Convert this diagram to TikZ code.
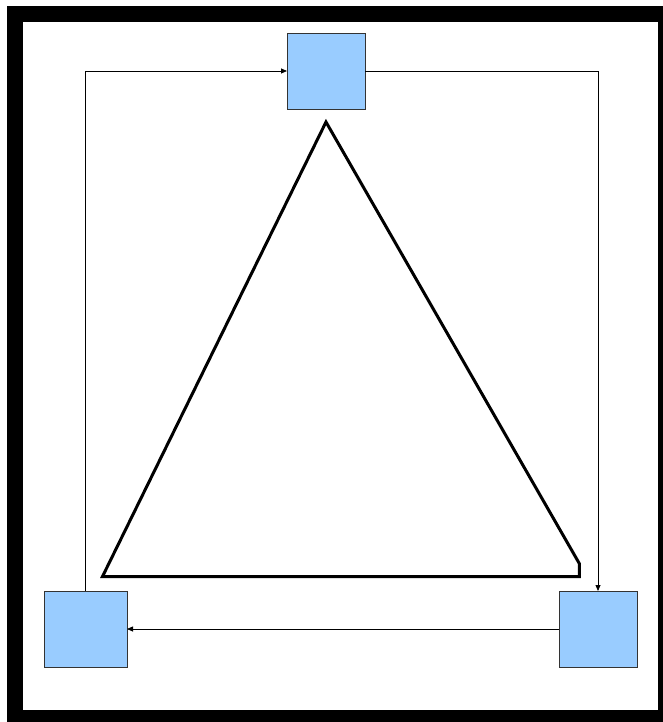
\documentclass[tikz,border=0pt]{standalone}
\usetikzlibrary{arrows.meta}
\definecolor{boxblue}{HTML}{99CCFF}
\definecolor{boxline}{HTML}{333333}
\begin{document}
\begin{tikzpicture}[x=1pt,y=-1pt,
  sq/.style={draw=boxline,fill=boxblue,line width=0.9pt,inner sep=0pt,outer sep=0pt,anchor=north west},
  conn/.style={line width=0.8pt,-{Triangle[length=6pt,width=5pt]}}]
\useasboundingbox (0,0) rectangle (663,722);
\clip (0,0) rectangle (663,722);
\draw[line width=16pt] (15,14) rectangle (666,718);
\node[sq,minimum width=78pt,minimum height=76pt] (top) at (287,33) {};
\node[sq,minimum width=83pt,minimum height=76pt] (lb) at (44,591) {};
\node[sq,minimum width=78pt,minimum height=76pt] (rb) at (559,591) {};
\coordinate (tl) at (lb.north |- top.west);
\coordinate (tr) at (598,0 |- top.east);
\draw[conn] (lb.north) -- (tl) -- (top.west);
\draw[conn] (top.east) -- (tr) -- (tr |- rb.north);
\draw[conn] (rb.west) -- (lb.east |- rb.west);
\draw[line width=3pt,line join=miter] (326,122) -- (579.3,563.5) -- (579.3,576.5) -- (102.5,576.5) -- cycle;
\end{tikzpicture}
\end{document}
